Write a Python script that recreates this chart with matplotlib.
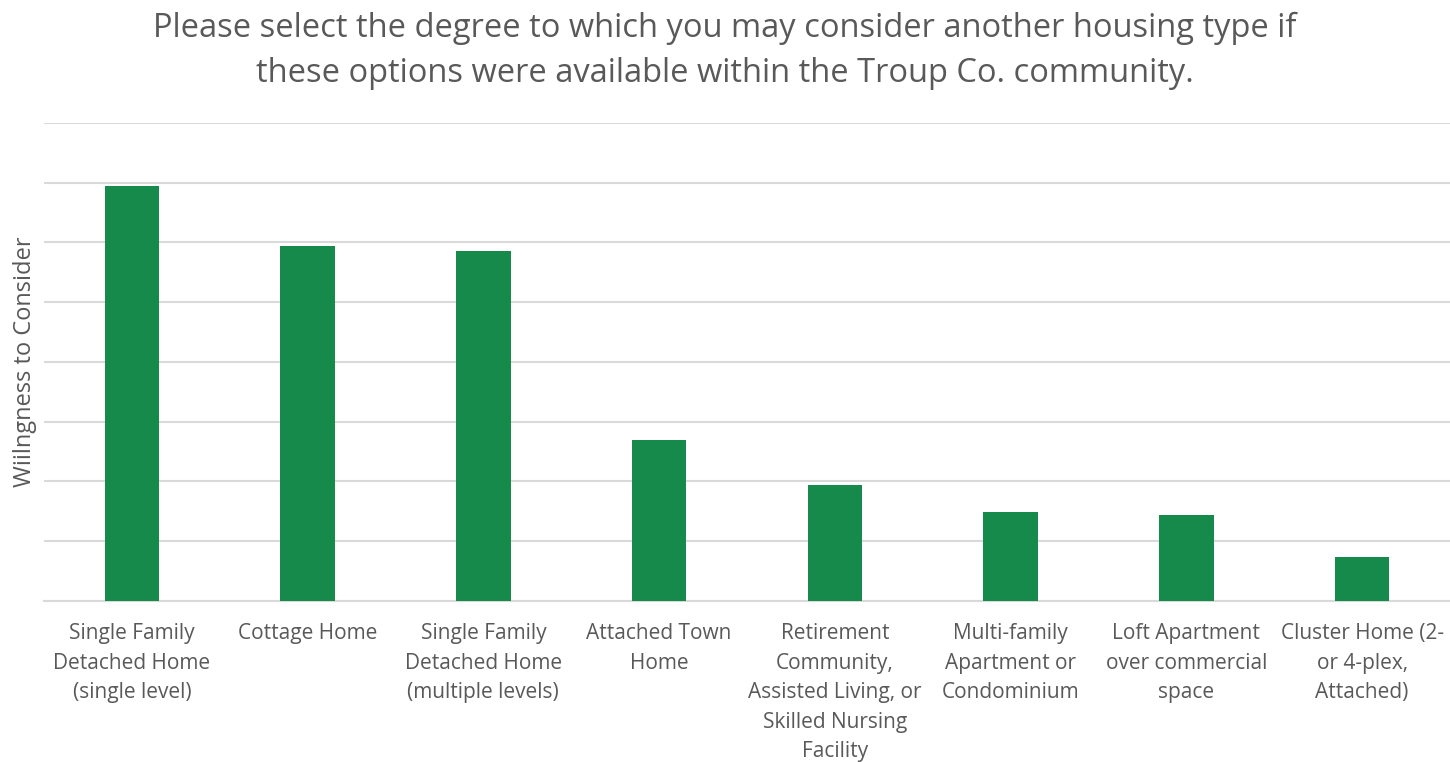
import matplotlib.pyplot as plt

categories = [
    "Single Family\nDetached Home\n(single level)",
    "Cottage Home",
    "Single Family\nDetached Home\n(multiple levels)",
    "Attached Town\nHome",
    "Retirement\nCommunity,\nAssisted Living, or\nSkilled Nursing\nFacility",
    "Multi-family\nApartment or\nCondominium",
    "Loft Apartment\nover commercial\nspace",
    "Cluster Home (2-\nor 4-plex,\nAttached)",
]
values = [6.95, 5.94, 5.85, 2.70, 1.94, 1.49, 1.44, 0.74]

plt.rcParams['font.family'] = ['Open Sans', 'DejaVu Sans']
text_color = '#595959'

fig = plt.figure(figsize=(14.5, 7.62), dpi=100)
ax = fig.add_axes([0.0303, 0.2113, 0.9697, 0.6273])

x = range(len(categories))
ax.bar(x, values, width=0.31, color='#158A4A', zorder=3)

ax.set_xlim(-0.5, len(categories) - 0.5)
ax.set_ylim(0, 8)
ax.set_yticks(range(0, 9))
ax.set_yticklabels([])
ax.tick_params(axis='y', length=0)
ax.grid(axis='y', color='#d9d9d9', linewidth=1.5, zorder=0)

ax.set_xticks(list(x))
ax.set_xticklabels(categories, fontsize=15, color=text_color, linespacing=1.53, va='top')
ax.tick_params(axis='x', length=0, pad=16)

for side in ['top', 'right', 'left']:
    ax.spines[side].set_visible(False)
ax.spines['bottom'].set_color('#d9d9d9')
ax.spines['bottom'].set_linewidth(1.5)

ax.set_ylabel('Wiilngness to Consider', fontsize=17, color=text_color)
ax.yaxis.set_label_coords(-0.005, 0.5)

fig.text(0.5, 0.985, 'Please select the degree to which you may consider another housing type if\n'
         'these options were available within the Troup Co. community.',
         ha='center', va='top', fontsize=23.5, color=text_color, linespacing=1.5)

fig.savefig('out.png', dpi=100)
